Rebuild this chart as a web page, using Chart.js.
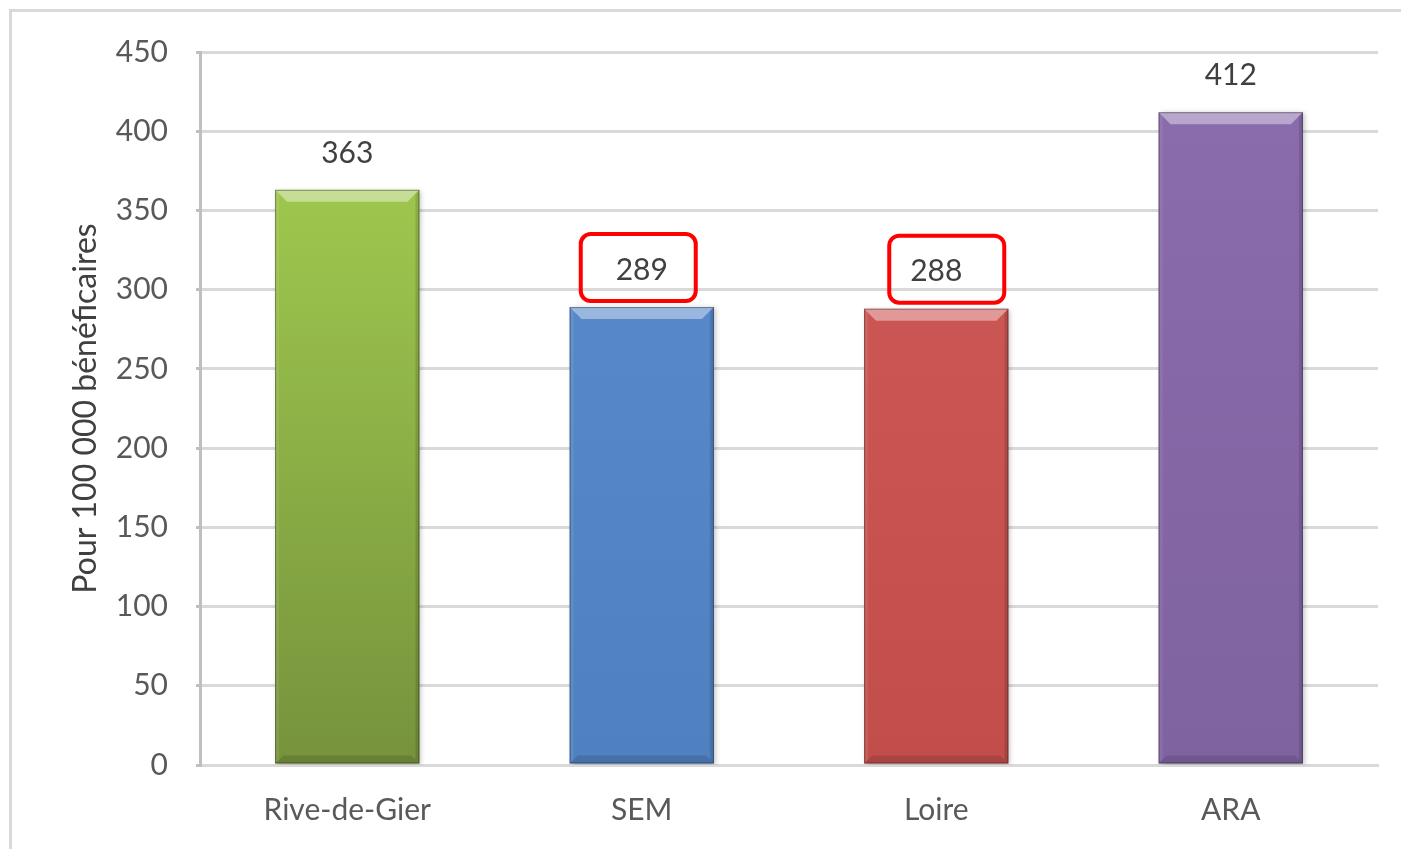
<!DOCTYPE html>
<html>
<head>
<meta charset="utf-8">
<script src="https://cdn.jsdelivr.net/npm/chart.js@4"></script>
<style>
  body { margin: 0; background: #fff; }
  #wrap { width: 1401px; height: 849px; position: relative; }
</style>
</head>
<body>
<div id="wrap"><canvas id="myChart" width="1401" height="849"></canvas></div>
<script>
const categories = ['Rive-de-Gier', 'SEM', 'Loire', 'ARA']
const values = [363, 289, 288, 412]
const yTicks = [0, 50, 100, 150, 200, 250, 300, 350, 400, 450]
const highlighted = ['SEM', 'Loire']

const topColors = ['#a8d352', '#5b8dcf', '#d05a58', '#8b6cad']
const bottomColors = ['#76933c', '#4f80c0', '#c24e4c', '#7f62a0']
// the hand-drawn boxes are not centred the same way on each label
const boxShift = { SEM: -4, Loire: 10 }

// outer frame like the original picture
const framePlugin = {
    id: 'frame',
    beforeDraw(chart) {
        const ctx = chart.ctx
        ctx.save()
        ctx.strokeStyle = '#d9d9d9'
        ctx.lineWidth = 3
        ctx.strokeRect(10.5, 10.5, 1420, 900)
        ctx.restore()
    }
}

// soft shadow behind bars
const shadowPlugin = {
    id: 'barShadow',
    beforeDatasetsDraw(chart) {
        const ctx = chart.ctx
        ctx.save()
        ctx.shadowColor = 'rgba(0,0,0,0.25)'
        ctx.shadowBlur = 5
        ctx.shadowOffsetX = 2
        ctx.shadowOffsetY = 1
    },
    afterDatasetsDraw(chart) {
        chart.ctx.restore()
    }
}

// bevel, value labels and the red boxes
const bevelPlugin = {
    id: 'bevel',
    afterDatasetsDraw(chart) {
        const ctx = chart.ctx
        const meta = chart.getDatasetMeta(0)
        meta.data.forEach((bar, i) => {
            const w = bar.width
            const l = bar.x - w / 2, r = bar.x + w / 2
            const t = bar.y, b = bar.base
            const bv = 12
            ctx.save()
            // top bevel
            ctx.fillStyle = 'rgba(255,255,255,0.4)'
            ctx.beginPath()
            ctx.moveTo(l, t); ctx.lineTo(r, t); ctx.lineTo(r - bv, t + bv); ctx.lineTo(l + bv, t + bv)
            ctx.closePath(); ctx.fill()
            // right side
            ctx.fillStyle = 'rgba(0,0,0,0.12)'
            ctx.beginPath()
            ctx.moveTo(r, t); ctx.lineTo(r, b); ctx.lineTo(r - 4, b - 4); ctx.lineTo(r - 4, t + 4)
            ctx.closePath(); ctx.fill()
            // left side
            ctx.fillStyle = 'rgba(255,255,255,0.08)'
            ctx.beginPath()
            ctx.moveTo(l, t); ctx.lineTo(l, b); ctx.lineTo(l + 4, b - 4); ctx.lineTo(l + 4, t + 4)
            ctx.closePath(); ctx.fill()
            // bottom bevel
            ctx.fillStyle = 'rgba(0,0,0,0.12)'
            ctx.beginPath()
            ctx.moveTo(l, b); ctx.lineTo(r, b); ctx.lineTo(r - 8, b - 8); ctx.lineTo(l + 8, b - 8)
            ctx.closePath(); ctx.fill()
            ctx.strokeStyle = 'rgba(0,0,0,0.35)'
            ctx.lineWidth = 1
            ctx.strokeRect(l + 0.5, t + 0.5, w - 1, b - t - 1)

            // value label
            ctx.fillStyle = '#404040'
            ctx.font = '30px Lato'
            ctx.textAlign = 'center'
            ctx.textBaseline = 'middle'
            ctx.fillText(values[i], bar.x, t - 37)

            if (highlighted.includes(categories[i])) {
                const cx = bar.x + boxShift[categories[i]]
                ctx.strokeStyle = '#ff0000'
                ctx.lineWidth = 4
                ctx.beginPath()
                ctx.roundRect(cx - 57, t - 73, 115, 67, 10)
                ctx.stroke()
            }
            ctx.restore()
        })
    }
}

let myChart = document.getElementById('myChart').getContext('2d')

const data = {
    labels: categories,
    datasets: [{
        data: values,
        backgroundColor: (c) => {
            const chart = c.chart
            const area = chart.chartArea
            if (!area || c.dataIndex === undefined) return topColors[c.dataIndex || 0]
            const bar = chart.getDatasetMeta(0).data[c.dataIndex]
            const top = bar && isFinite(bar.y) ? bar.y : area.top
            const g = chart.ctx.createLinearGradient(0, top, 0, area.bottom)
            g.addColorStop(0, topColors[c.dataIndex])
            g.addColorStop(1, bottomColors[c.dataIndex])
            return g
        },
        borderWidth: 0,
        barPercentage: 0.49,
        categoryPercentage: 1
    }]
}

let barChart = new Chart(myChart, {
    type: 'bar',
    data: data,
    plugins: [framePlugin, shadowPlugin, bevelPlugin],
    options: {
        responsive: false,
        animation: false,
        layout: {
            padding: { top: 52, right: 23, left: 0, bottom: 0 }
        },
        plugins: {
            legend: { display: false },
            tooltip: { enabled: false }
        },
        scales: {
            x: {
                afterFit: (s) => { s.height = 84 },
                grid: { display: false, drawTicks: false },
                border: { color: '#d9d9d9', width: 3 },
                ticks: {
                    color: '#595959',
                    padding: 27,
                    font: { family: 'Lato', size: 30 }
                }
            },
            y: {
                min: 0,
                max: 450,
                afterFit: (s) => { s.width = 200 },
                afterBuildTicks: (s) => { s.ticks = yTicks.map(v => ({ value: v })) },
                title: {
                    display: true,
                    text: 'Pour 100 000 bénéficaires',
                    color: '#404040',
                    font: { family: 'Lato', size: 32 },
                    padding: { top: 66, bottom: 0 }
                },
                grid: {
                    color: '#d9d9d9',
                    lineWidth: 3,
                    tickLength: 4,
                    tickColor: '#bfbfbf'
                },
                border: { color: '#bfbfbf', width: 3 },
                ticks: {
                    color: '#595959',
                    padding: 28,
                    font: { family: 'Lato', size: 30 }
                }
            }
        }
    }
})
</script>
</body>
</html>
